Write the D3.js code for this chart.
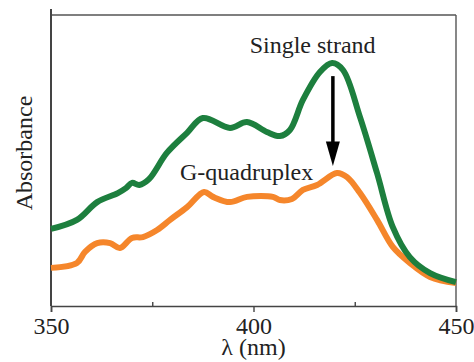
<!DOCTYPE html>
<html>
<head>
<meta charset="utf-8">
<script src="https://cdn.jsdelivr.net/npm/d3@7"></script>
<style>
  body { margin: 0; background: #fff; }
</style>
</head>
<body>
<div id="viz"></div>
<script>
// spectra (wavelength in nm, absorbance in arbitrary units)
const singleNm = [350, 356.4, 361.4, 366.5, 368.5, 370.0, 371.8, 374.2, 378.6, 383.6, 387.5, 394.2, 398.4, 403.3, 406.5, 409.0, 412.2, 416.4, 419.4, 422.1, 426.3, 430.5, 434.4, 438.6, 443.6, 450];
const singleAbs = [0.265, 0.296, 0.357, 0.388, 0.405, 0.423, 0.416, 0.436, 0.526, 0.595, 0.646, 0.612, 0.632, 0.598, 0.584, 0.605, 0.708, 0.804, 0.835, 0.811, 0.649, 0.457, 0.271, 0.168, 0.113, 0.082];

const quadNm = [350, 356.4, 358.4, 361.4, 364.6, 367.0, 370.0, 372.7, 376.2, 379.4, 383.6, 387.8, 390.0, 394.2, 398.4, 404.8, 406.5, 409.5, 412.2, 415.7, 420.6, 423.1, 426.3, 430.5, 434.4, 438.6, 443.6, 450];
const quadAbs = [0.131, 0.148, 0.186, 0.216, 0.216, 0.199, 0.234, 0.237, 0.261, 0.296, 0.340, 0.392, 0.375, 0.357, 0.375, 0.375, 0.364, 0.368, 0.399, 0.416, 0.457, 0.443, 0.388, 0.296, 0.203, 0.148, 0.100, 0.079];

const majorTicks = [350, 400, 450];
const minorTicks = [375, 425];

const serif = '"Liberation Serif", "Times New Roman", Times, serif';
const margin = {top: 15, left: 51, bottom: 56, right: 18};
const width = 474 - margin.left - margin.right;
const height = 362 - margin.top - margin.bottom;

const svg = d3.select('#viz')
      .append('svg')
      .attr('width', 474)
      .attr('height', 362);

const g = svg.append('g')
      .attr('transform', `translate(${margin.left},${margin.top})`);

const x = d3.scaleLinear().domain([350, 450]).range([0, width]);
const y = d3.scaleLinear().domain([0, 1]).range([height, 0]);

// frame
g.append('line').attr('x1', 0).attr('x2', width).attr('y1', 0).attr('y2', 0)
  .attr('stroke', '#555').attr('stroke-width', 1.4);
g.append('line').attr('x1', width).attr('x2', width).attr('y1', 0).attr('y2', height)
  .attr('stroke', '#555').attr('stroke-width', 1.4);
g.append('line').attr('x1', 0).attr('x2', 0).attr('y1', -6).attr('y2', height)
  .attr('stroke', '#444').attr('stroke-width', 2);

// bottom axis, major ticks out, minor ticks in
const xAxis = g.append('g')
  .attr('transform', `translate(0,${height})`)
  .call(d3.axisBottom(x).tickValues(majorTicks).tickSize(6).tickPadding(5).tickFormat(d3.format('d')));
xAxis.select('.domain').attr('stroke', '#444').attr('stroke-width', 1.6);
xAxis.selectAll('.tick line').attr('stroke', '#444').attr('stroke-width', 1.4);
xAxis.selectAll('.tick text')
  .style('font-family', serif)
  .style('font-size', '24px')
  .attr('fill', '#222');

g.append('g')
  .attr('transform', `translate(0,${height})`)
  .call(d3.axisTop(x).tickValues(minorTicks).tickSize(4).tickFormat(''))
  .call(a => a.select('.domain').remove())
  .call(a => a.selectAll('.tick line').attr('stroke', '#444').attr('stroke-width', 1.4));

const line = d3.line()
  .x(d => x(d[0]))
  .y(d => y(d[1]))
  .curve(d3.curveCatmullRom.alpha(0.5));

g.append('path')
  .datum(quadNm.map((v, i) => [v, quadAbs[i]]))
  .attr('d', line)
  .attr('fill', 'none')
  .attr('stroke', '#f5862b')
  .attr('stroke-width', 6)
  .attr('stroke-linejoin', 'round');

g.append('path')
  .datum(singleNm.map((v, i) => [v, singleAbs[i]]))
  .attr('d', line)
  .attr('fill', 'none')
  .attr('stroke', '#1d7f3e')
  .attr('stroke-width', 6)
  .attr('stroke-linejoin', 'round');

// arrow from single strand peak to G-quadruplex peak
const arrowX = x(419.6);
g.append('line')
  .attr('x1', arrowX).attr('x2', arrowX)
  .attr('y1', y(0.79)).attr('y2', y(0.56))
  .attr('stroke', '#000').attr('stroke-width', 3.5);
g.append('path')
  .attr('d', `M${arrowX - 7},${y(0.565)} L${arrowX + 7},${y(0.565)} L${arrowX},${y(0.481)} Z`)
  .attr('fill', '#000');

// labels
function label(sel, txt) {
  return sel.append('text')
    .attr('text-anchor', 'middle')
    .style('font-family', serif)
    .style('font-size', '24px')
    .attr('fill', '#222')
    .text(txt);
}

label(g, 'Single strand').attr('x', x(414.6)).attr('y', y(0.871));
label(g, 'G-quadruplex').attr('x', x(398.3)).attr('y', y(0.433));
label(svg, 'λ (nm)').attr('x', margin.left + width / 2).attr('y', 355);
label(svg, 'Absorbance').attr('transform', 'translate(32,153) rotate(-90)');
</script>
</body>
</html>
